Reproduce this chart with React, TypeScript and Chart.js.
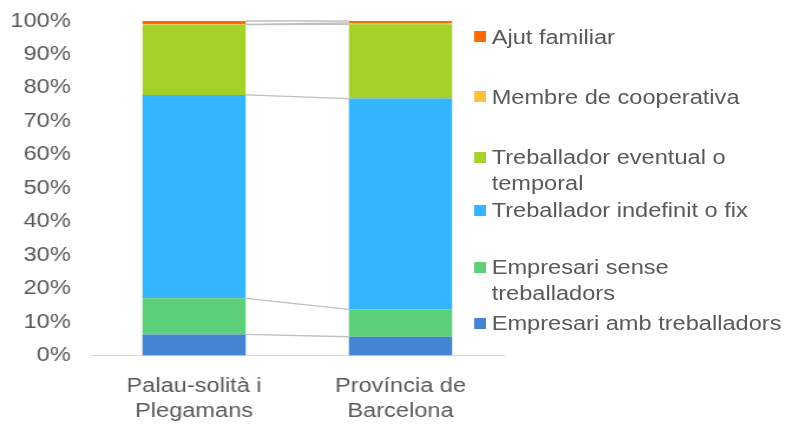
import { useEffect, useRef } from "react";
import { Chart, registerables } from "chart.js";

Chart.register(...registerables);

// ---- data ----
const categories = [
  ["Palau-solità i", "Plegamans"],
  ["Província de", "Barcelona"],
];
const seriesNames = [
  "Empresari amb treballadors",
  "Empresari sense treballadors",
  "Treballador indefinit o fix",
  "Treballador eventual o temporal",
  "Membre de cooperativa",
  "Ajut familiar",
];
const empresariAmb = [6.3, 5.6];
const empresariSense = [10.8, 8.2];
const indefinit = [60.8, 63.0];
const eventual = [21.0, 22.2];
const cooperativa = [0.1, 0.4];
const ajutFamiliar = [1.0, 0.6];
const yTickValues = [0, 10, 20, 30, 40, 50, 60, 70, 80, 90, 100];
const seriesColors = ["#4484D4", "#5CD17A", "#33B5FF", "#A6D129", "#FBC13F", "#FF6A00"];

// ---- presentation ----
const INNER_W = 668;
const H = 425;
const K = 788 / INNER_W;
const FONT = "'Liberation Sans', Arial, sans-serif";
const TEXT = "#595959";
// legend first-line centres (top to bottom: reverse series order)
const legendCenters = [36.7, 96.5, 157, 210, 267, 323];

const seriesLines = {
  id: "seriesLines",
  afterDatasetsDraw(chart: any) {
    const ctx = chart.ctx;
    ctx.save();
    ctx.strokeStyle = "#BFBFBF";
    ctx.lineWidth = 1.3;
    chart.data.datasets.forEach((_: any, d: number) => {
      const meta = chart.getDatasetMeta(d);
      for (let j = 0; j < meta.data.length - 1; j++) {
        const a: any = meta.data[j];
        const b: any = meta.data[j + 1];
        ctx.beginPath();
        ctx.moveTo(a.x + a.width / 2, a.y);
        ctx.lineTo(b.x - b.width / 2, b.y);
        ctx.stroke();
      }
    });
    ctx.restore();
  },
};

export default function App() {
  const ref = useRef<HTMLCanvasElement>(null);

  useEffect(() => {
    document.body.style.margin = "0";
    const values = [empresariAmb, empresariSense, indefinit, eventual, cooperativa, ajutFamiliar];
    const chart = new Chart(ref.current as HTMLCanvasElement, {
      type: "bar",
      data: {
        labels: categories as any,
        datasets: seriesNames.map((name, i) => ({
          label: name,
          data: values[i],
          backgroundColor: seriesColors[i],
          borderWidth: 0,
          categoryPercentage: 1,
          barPercentage: 0.5,
        })),
      },
      options: {
        animation: false,
        responsive: false,
        maintainAspectRatio: false,
        devicePixelRatio: 1,
        layout: { padding: { top: 21, right: 241, left: 0, bottom: 0 } },
        plugins: { legend: { display: false }, tooltip: { enabled: false } },
        scales: {
          x: {
            stacked: true,
            grid: { display: false },
            border: { display: true, color: "#D9D9D9", width: 1 },
            ticks: {
              color: TEXT,
              font: { family: FONT, size: 20, lineHeight: 1.275 },
              padding: 10,
              maxRotation: 0,
              autoSkip: false,
            },
            afterFit: (s: any) => {
              s.height = 69.5;
              s.paddingLeft = 0;
              s.paddingRight = 0;
            },
          },
          y: {
            stacked: true,
            min: 0,
            max: 100,
            grid: { display: false },
            border: { display: false },
            afterBuildTicks: (s: any) => {
              s.ticks = yTickValues.map((v) => ({ value: v }));
            },
            ticks: {
              color: TEXT,
              font: { family: FONT, size: 20 },
              padding: 9,
              callback: (v: any) => v + "%",
            },
            afterFit: (s: any) => {
              s.width = 77;
              s.paddingTop = 0;
              s.paddingBottom = 0;
            },
          },
        },
      },
      plugins: [seriesLines],
    });
    return () => chart.destroy();
  }, []);

  const legendItems = seriesNames.map((n, i) => ({ name: n, color: seriesColors[i] })).reverse();

  return (
    <div
      style={{
        position: "fixed",
        left: 0,
        top: 0,
        width: INNER_W,
        height: H,
        transform: `scaleX(${K})`,
        transformOrigin: "0 0",
        background: "#fff",
      }}
    >
      <canvas ref={ref} width={INNER_W} height={H} style={{ display: "block" }} />
      {legendItems.map((item, i) => (
        <div key={item.name}>
          <div
            style={{
              position: "absolute",
              left: 402,
              top: legendCenters[i] - 5.5,
              width: 9.6,
              height: 11,
              background: item.color,
            }}
          />
          <div
            style={{
              position: "absolute",
              left: 416.8,
              top: legendCenters[i] - 13,
              width: 252,
              font: `20px ${FONT}`,
              lineHeight: "26px",
              color: TEXT,
            }}
          >
            {item.name}
          </div>
        </div>
      ))}
    </div>
  );
}
